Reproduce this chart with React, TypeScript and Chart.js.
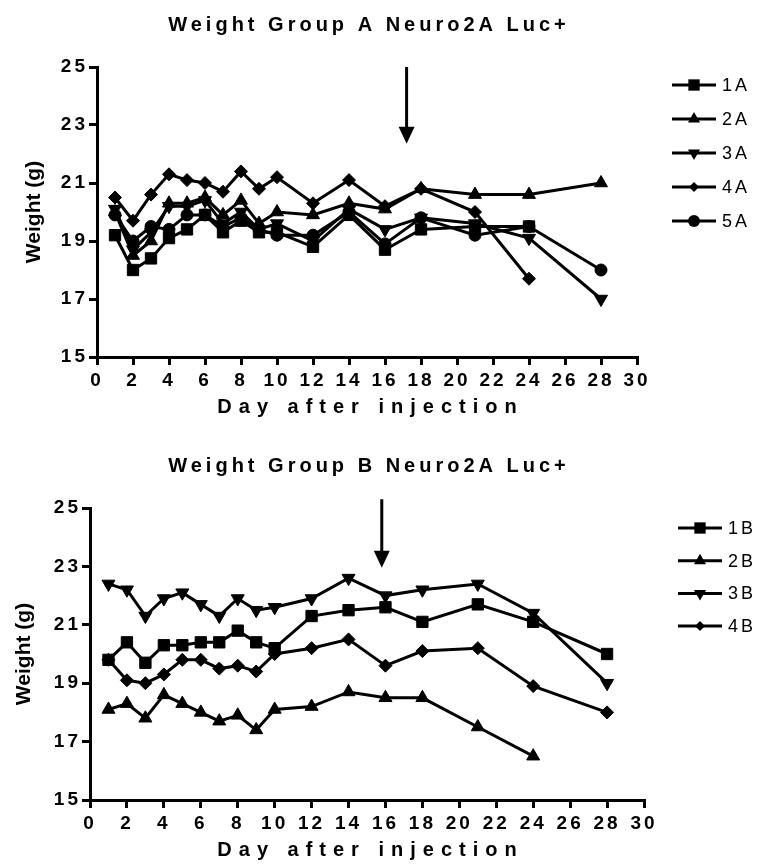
import React, { useEffect, useRef } from "react";
import { Chart, registerables } from "chart.js";

Chart.register(...registerables);

const FONT = '"Liberation Sans", Arial, Helvetica, sans-serif';

// ---------- data ----------
const days = [1, 2, 3, 4, 5, 6, 7, 8, 9, 10, 12, 14, 16, 18, 21, 24, 28];
const xTicks = [0, 2, 4, 6, 8, 10, 12, 14, 16, 18, 20, 22, 24, 26, 28, 30];
const yTicks = [15, 17, 19, 21, 23, 25];

const labelsA = ["1A", "2A", "3A", "4A", "5A"];
const a1 = [19.2, 18.0, 18.4, 19.1, 19.4, 19.9, 19.3, 19.7, 19.3, 19.3, 18.8, 19.9, 18.7, 19.4, 19.5, 19.5, null];
const a2 = [20.0, 18.5, 19.0, 20.3, 20.3, 20.5, 19.9, 20.4, 19.6, 20.0, 19.9, 20.3, 20.1, 20.8, 20.6, 20.6, 21.0];
const a3 = [20.1, 18.7, 19.3, 20.2, 20.2, 20.4, 19.6, 20.0, 19.4, 19.6, 19.0, 20.1, 19.4, 19.8, 19.6, 19.1, 17.0];
const a4 = [20.5, 19.7, 20.6, 21.3, 21.1, 21.0, 20.7, 21.4, 20.8, 21.2, 20.3, 21.1, 20.2, 20.8, 20.0, 17.7, null];
const a5 = [19.9, 19.0, 19.5, 19.4, 19.9, 19.9, 19.5, 19.8, 19.4, 19.2, 19.2, 20.0, 18.9, 19.8, 19.2, 19.5, 18.0];

const labelsB = ["1B", "2B", "3B", "4B"];
const b1 = [19.8, 20.4, 19.7, 20.3, 20.3, 20.4, 20.4, 20.8, 20.4, 20.2, 21.3, 21.5, 21.6, 21.1, 21.7, 21.1, 20.0];
const b2 = [18.1, 18.3, 17.8, 18.6, 18.3, 18.0, 17.7, 17.9, 17.4, 18.1, 18.2, 18.7, 18.5, 18.5, 17.5, 16.5, null];
const b3 = [22.4, 22.2, 21.3, 21.9, 22.1, 21.7, 21.3, 21.9, 21.5, 21.6, 21.9, 22.6, 22.0, 22.2, 22.4, 21.4, 19.0];
const b4 = [19.8, 19.1, 19.0, 19.3, 19.8, 19.8, 19.5, 19.6, 19.4, 20.0, 20.2, 20.5, 19.6, 20.1, 20.2, 18.9, 18.0];

const arrowA = { x: 17.2, from: 25.0, to: 22.35 };
const arrowB = { x: 15.8, from: 25.3, to: 22.95 };

// marker styles (style only)
const markers = [
  { style: "rect", rot: 0, r: 8, lr: 8 },
  { style: "triangle", rot: 0, r: 7.5, lr: 7 },
  { style: "triangle", rot: 180, r: 7.5, lr: 7 },
  { style: "rectRot", rot: 0, r: 6.5, lr: 5 },
  { style: "circle", rot: 0, r: 6, lr: 6 },
];

function toPoints(vals: (number | null)[]) {
  const out: { x: number; y: number }[] = [];
  vals.forEach((v, i) => {
    if (v !== null) out.push({ x: days[i], y: v });
  });
  return out;
}

function drawMarker(ctx: CanvasRenderingContext2D, style: string, rot: number, x: number, y: number, r: number) {
  ctx.beginPath();
  if (style === "rect") {
    const s = r * Math.SQRT1_2;
    ctx.rect(x - s, y - s, 2 * s, 2 * s);
  } else if (style === "triangle") {
    const dir = rot === 180 ? -1 : 1;
    ctx.moveTo(x, y - dir * r);
    ctx.lineTo(x + r * 0.866, y + dir * r * 0.5);
    ctx.lineTo(x - r * 0.866, y + dir * r * 0.5);
    ctx.closePath();
  } else if (style === "rectRot") {
    ctx.moveTo(x - r, y);
    ctx.lineTo(x, y - r);
    ctx.lineTo(x + r, y);
    ctx.lineTo(x, y + r);
    ctx.closePath();
  } else {
    ctx.arc(x, y, r, 0, Math.PI * 2);
  }
  ctx.fill();
}

const decoPlugin = {
  id: "deco",
  beforeDraw(chart: any) {
    chart.ctx.letterSpacing = "3px";
  },
  afterDraw(chart: any, _args: any, o: any) {
    const { ctx, chartArea: ca, scales } = chart;
    const xs = scales.x;
    const ys = scales.y;
    ctx.save();
    ctx.fillStyle = "#000";
    ctx.strokeStyle = "#000";
    const cx = (ca.left + ca.right) / 2;

    // chart title
    ctx.font = `bold 20px ${FONT}`;
    ctx.letterSpacing = "4px";
    ctx.textAlign = "center";
    ctx.textBaseline = "middle";
    ctx.fillText(o.title, cx + 2, ca.top - o.titleGap);

    // x title
    ctx.letterSpacing = "7px";
    ctx.fillText("Day after injection", cx + 3.5, ca.bottom + 50);

    // y title
    ctx.save();
    ctx.translate(o.yTitleX, (ca.top + ca.bottom) / 2);
    ctx.rotate(-Math.PI / 2);
    ctx.letterSpacing = "0px";
    ctx.font = `bold 21px ${FONT}`;
    ctx.fillText("Weight (g)", 0, 0);
    ctx.restore();

    // arrow
    const ax = xs.getPixelForValue(o.arrow.x);
    const ay0 = ys.getPixelForValue(o.arrow.from);
    const ay1 = ys.getPixelForValue(o.arrow.to);
    ctx.lineWidth = 3;
    ctx.beginPath();
    ctx.moveTo(ax, ay0);
    ctx.lineTo(ax, ay1 - 14);
    ctx.stroke();
    ctx.beginPath();
    ctx.moveTo(ax - 8, ay1 - 17);
    ctx.lineTo(ax + 8, ay1 - 17);
    ctx.lineTo(ax, ay1);
    ctx.closePath();
    ctx.fill();

    // legend
    ctx.font = `18px ${FONT}`;
    ctx.letterSpacing = "3px";
    ctx.textAlign = "left";
    chart.data.datasets.forEach((ds: any, i: number) => {
      const ly = ca.top + o.legendTop + i * o.legendStep;
      ctx.lineWidth = 3;
      ctx.beginPath();
      ctx.moveTo(o.legendX, ly);
      ctx.lineTo(o.legendX + 44, ly);
      ctx.stroke();
      const m = markers[i];
      drawMarker(ctx, m.style, m.rot, o.legendX + 22, ly, m.lr);
      ctx.fillText(ds.label, o.legendX + 50, ly + 1);
    });
    ctx.restore();
  },
};

function makeChart(canvas: HTMLCanvasElement, cfg: any) {
  const datasets = cfg.series.map((s: (number | null)[], i: number) => ({
    label: cfg.labels[i],
    data: toPoints(s),
    borderColor: "#000",
    backgroundColor: "#000",
    borderWidth: 3,
    pointStyle: markers[i].style,
    pointRotation: markers[i].rot,
    pointRadius: markers[i].r,
    pointBorderWidth: 1,
    pointBackgroundColor: "#000",
    pointBorderColor: "#000",
    tension: 0,
  }));
  const tickFont = { family: FONT, size: 19, weight: "bold" };
  return new Chart(canvas, {
    type: "line",
    data: { datasets },
    plugins: [decoPlugin],
    options: {
      responsive: false,
      animation: false,
      devicePixelRatio: 1,
      layout: {
        autoPadding: false,
        padding: cfg.padding,
      },
      plugins: {
        legend: { display: false },
        tooltip: { enabled: false },
        title: { display: false },
        deco: {
          title: cfg.title,
          titleGap: cfg.titleGap,
          yTitleX: cfg.yTitleX,
          arrow: cfg.arrow,
          legendX: cfg.legendX,
          legendTop: cfg.legendTop,
          legendStep: cfg.legendStep,
        },
      } as any,
      scales: {
        x: {
          type: "linear",
          min: 0,
          max: 30,
          afterBuildTicks: (s: any) => {
            s.ticks = xTicks.map((v) => ({ value: v }));
          },
          afterFit: (s: any) => {
            s.height = 40;
          },
          ticks: {
            color: "#000",
            font: tickFont,
            padding: 4,
            maxRotation: 0,
            autoSkip: false,
          },
          grid: {
            display: true,
            drawOnChartArea: false,
            drawTicks: true,
            tickLength: 8,
            lineWidth: 3,
            color: "#000",
          },
          border: { display: true, width: 3, color: "#000" },
        },
        y: {
          type: "linear",
          min: 15,
          max: 25,
          afterBuildTicks: (s: any) => {
            s.ticks = yTicks.map((v) => ({ value: v }));
          },
          afterFit: (s: any) => {
            s.width = cfg.yWidth;
          },
          ticks: {
            color: "#000",
            font: tickFont,
            padding: 1,
            autoSkip: false,
          },
          grid: {
            display: true,
            drawOnChartArea: false,
            drawTicks: true,
            tickLength: 8,
            lineWidth: 3,
            color: "#000",
          },
          border: { display: true, width: 3, color: "#000" },
        },
      },
    } as any,
  });
}

function Panel({ cfg, top, height }: { cfg: any; top: number; height: number }) {
  const ref = useRef<HTMLCanvasElement | null>(null);
  useEffect(() => {
    if (!ref.current) return;
    const chart = makeChart(ref.current, cfg);
    return () => chart.destroy();
  }, []);
  return (
    <canvas
      ref={ref}
      width={764}
      height={height}
      style={{ position: "absolute", left: 0, top, width: 764, height }}
    />
  );
}

const cfgA = {
  title: "Weight Group A Neuro2A Luc+",
  labels: labelsA,
  series: [a1, a2, a3, a4, a5],
  arrow: arrowA,
  yWidth: 97,
  padding: { left: 0, top: 67, right: 127, bottom: 35 },
  titleGap: 42,
  yTitleX: 34,
  legendX: 672,
  legendTop: 18,
  legendStep: 34,
};

const cfgB = {
  title: "Weight Group B Neuro2A Luc+",
  labels: labelsB,
  series: [b1, b2, b3, b4],
  arrow: arrowB,
  yWidth: 90,
  padding: { left: 0, top: 76, right: 120, bottom: 26 },
  titleGap: 42,
  yTitleX: 24,
  legendX: 678,
  legendTop: 20,
  legendStep: 32.7,
};

export default function App() {
  return (
    <div style={{ position: "absolute", left: 0, top: 0, width: 764, height: 866, background: "#fff" }}>
      <Panel cfg={cfgA} top={0} height={432} />
      <Panel cfg={cfgB} top={432} height={434} />
    </div>
  );
}
